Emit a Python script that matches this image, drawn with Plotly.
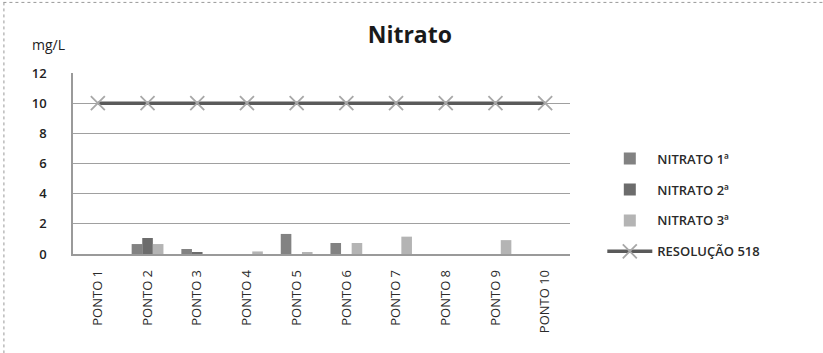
import plotly.graph_objects as go

categories = ["PONTO 1", "PONTO 2", "PONTO 3", "PONTO 4", "PONTO 5",
              "PONTO 6", "PONTO 7", "PONTO 8", "PONTO 9", "PONTO 10"]
nitrato_1 = [0, 0.66, 0.33, 0, 1.33, 0.73, 0, 0, 0, 0]
nitrato_2 = [0, 1.06, 0.1, 0, 0, 0, 0, 0, 0, 0]
nitrato_3 = [0, 0.66, 0, 0.17, 0.1, 0.73, 1.15, 0, 0.92, 0]
resolucao = [10, 10, 10, 10, 10, 10, 10, 10, 10, 10]
y_ticks = [0, 2, 4, 6, 8, 10, 12]

FONT = "Open Sans, Noto Sans, sans-serif"

fig = go.Figure()
fig.add_bar(x=categories, y=nitrato_1, name="NITRATO 1ª",
            marker=dict(color="#828282", line=dict(width=0)), legendgroup="a")
fig.add_bar(x=categories, y=nitrato_2, name="NITRATO 2ª",
            marker=dict(color="#6c6c6c", line=dict(width=0)), legendgroup="b")
fig.add_bar(x=categories, y=nitrato_3, name="NITRATO 3ª",
            marker=dict(color="#b4b4b4", line=dict(width=0)), legendgroup="c")
fig.add_scatter(x=categories, y=resolucao, name="RESOLUÇÃO 518", mode="lines+markers",
                line=dict(color="#5a5a5a", width=3.5),
                marker=dict(symbol="x-thin", size=14, line=dict(color="#a8a8a8", width=1.8)),
                legendgroup="d")

fig.update_layout(
    width=823, height=353,
    margin=dict(l=73, r=253, t=73, b=99),
    paper_bgcolor="white", plot_bgcolor="white",
    barmode="group", bargap=0.36, bargroupgap=0,
    font=dict(family=FONT, color="#333333"),
    title=dict(text="<b>Nitrato</b>", x=0.498, xanchor="center", y=0.9, yanchor="middle",
               font=dict(size=23, color="#1a1a1a", family=FONT)),
    showlegend=True,
    legend=dict(x=1.065, xanchor="left", y=0.27, yanchor="middle",
                font=dict(size=13, color="#2a2a2a", family=FONT, weight=600),
                tracegroupgap=11, itemwidth=45, bgcolor="rgba(0,0,0,0)"),
    xaxis=dict(type="category", range=[-0.5, 9.5], tickangle=-90, showgrid=False,
               showline=True, linecolor="#9a9a9a", linewidth=1.5,
               ticks="", ticklabelstandoff=9,
               tickfont=dict(size=13, color="#2a2a2a", family=FONT)),
    yaxis=dict(range=[0, 12], tickvals=y_ticks, showgrid=True,
               gridcolor="#a0a0a0", gridwidth=1.2,
               showline=True, linecolor="#9a9a9a", linewidth=1.5,
               ticks="", ticklabelstandoff=22,
               zeroline=False,
               tickfont=dict(size=13, color="#222222", family=FONT, weight=600)),
    annotations=[dict(text="mg/L", xref="paper", yref="paper", x=-0.05, y=1.16,
                      xanchor="center", yanchor="middle", showarrow=False,
                      font=dict(size=14, color="#222222", family=FONT))],
    shapes=[
        dict(type="line", xref="paper", yref="paper", x0=-0.14, x1=1.51, y0=1.39, y1=1.39,
             line=dict(color="#999999", width=1, dash="dot")),
        dict(type="line", xref="paper", yref="paper", x0=-0.139, x1=-0.139, y0=1.39, y1=-0.55,
             line=dict(color="#999999", width=1, dash="dot")),
    ],
)

fig.write_html("out.html", config={"displayModeBar": False},
               post_script="document.body.style.margin='0';")
